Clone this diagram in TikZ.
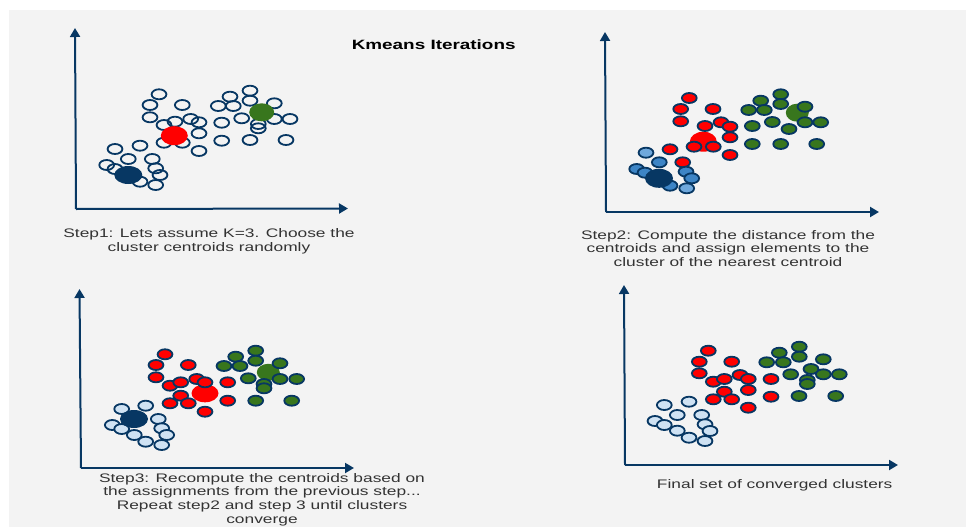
\documentclass[tikz,border=0pt]{standalone}
\usepackage{fontspec}
\setmainfont{Liberation Sans}
\newfontfamily\labelfont[FakeStretch=1.4]{Liberation Sans}
\usetikzlibrary{arrows.meta}

\definecolor{navy}{HTML}{073763}
\definecolor{panelbg}{HTML}{F3F3F3}
\definecolor{ptred}{HTML}{FF0000}
\definecolor{ptgreen}{HTML}{38761D}
\definecolor{ptblue}{HTML}{3D85C6}
\definecolor{ptblueL}{HTML}{6FA8DC}
\definecolor{ptpale}{HTML}{CFE2F3}
\definecolor{captiongray}{HTML}{333333}

\begin{document}
\begin{tikzpicture}[x=1pt,y=-1pt,
  axis/.style={draw=navy, line width=2pt, -{Triangle[width=10pt,length=9pt]}},
  dot/.style={draw=navy, line width=1.8pt},
  caption/.style={font=\labelfont\fontsize{12.4}{13.8}\selectfont, text=captiongray,
                  align=center, inner sep=0pt},
  heading/.style={font=\labelfont\fontsize{13.5}{15}\selectfont\bfseries, text=black, inner sep=0pt}
]
\useasboundingbox (0,0) rectangle (966,527);
\fill[white] (0,0) rectangle (966,527);
\fill[panelbg] (9,10) rectangle (966,527);

\node[heading] (title) at (433.7,45) {Kmeans Iterations};

% ---------------- Step 1: random centroids ----------------
\coordinate (o1) at (76,209);
\coordinate (y1) at (75,28);
\coordinate (x1) at (348,208.5);
\draw[axis] (o1) -- (y1);
\draw[axis] (o1) -- (x1);

\foreach \c in {(159,94.3),(150,105),(182.3,105),(150,117.3),(164,125),(175,121.7),
  (190.7,119),(199,122.3),(199,133.3),(164,142.7),(182.3,142.7),(199,151),
  (230,96.7),(250,90.7),(250,100.7),(218.3,106),(233.3,106),(274.3,103.3),
  (221.7,122.7),(241.7,118.3),(258.3,124),(258.3,128.3),(274.3,119),(290,119),
  (221.7,140.7),(250,140),(286,140),
  (115,149),(140,145.7),(128.3,159),(152.3,159),(106.7,165),(115,169),
  (155.7,168.3),(160,175),(140,181.7),(155.7,185)}
  \draw[dot] \c ellipse [x radius=7.4pt, y radius=5pt];

\fill[ptred] (174.3,135.7) ellipse [x radius=13.5pt, y radius=9.5pt];
\fill[ptgreen] (261.7,112.3) ellipse [x radius=12.5pt, y radius=9pt];
\fill[navy] (128.3,175) ellipse [x radius=14pt, y radius=9pt];

\node[caption] (cap1) at (209,241) {Step1: Lets assume K=3. Choose the\\cluster centroids randomly};

% ---------------- Step 2: assignment ----------------
\coordinate (o2) at (606,212);
\coordinate (y2) at (605,32);
\coordinate (x2) at (879,212);
\draw[axis] (o2) -- (y2);
\draw[axis] (o2) -- (x2);

\fill[ptred] (703.3,141.7) ellipse [x radius=13.5pt, y radius=10pt];
\fill[ptgreen] (797.3,112.7) ellipse [x radius=11.5pt, y radius=9pt];

\foreach \c in {(689.3,98),(680.7,109),(713,109),(680.7,121.3),(705,126),(721,122.3),
  (730,126.7),(730,137.3),(694,146.7),(713.3,146.7),(730,155),(670,149.3),(682.7,162.3)}
  \draw[dot, fill=ptred] \c ellipse [x radius=7.4pt, y radius=5pt];
\foreach \c in {(760.7,100.7),(780.7,94.3),(780.7,104),(748.7,110),(764.3,110),(805,106.7),
  (752.3,126),(772.3,122),(789,129),(805,122.3),(820.7,122.3),(752.3,144),(780.7,144),(816.7,144)}
  \draw[dot, fill=ptgreen] \c ellipse [x radius=7.4pt, y radius=5pt];
\foreach \c in {(659.3,162.3),(636.7,169),(645,172.7),(686,171.7),(691.7,178.3),(670,185.7)}
  \draw[dot, fill=ptblue] \c ellipse [x radius=7.4pt, y radius=5pt];
\foreach \c in {(646,152.7),(686.7,188.3)}
  \draw[dot, fill=ptblueL] \c ellipse [x radius=7.4pt, y radius=5pt];

\fill[navy] (659,178.3) ellipse [x radius=14pt, y radius=9.5pt];

\node[caption] (cap2) at (728,248.5) {Step2: Compute the distance from the\\centroids and assign elements to the\\cluster of the nearest centroid};

% ---------------- Step 3: recompute centroids ----------------
\coordinate (o3) at (81,468);
\coordinate (y3) at (79.5,289);
\coordinate (x3) at (354,468);
\draw[axis] (o3) -- (y3);
\draw[axis] (o3) -- (x3);

\fill[ptred] (205,393.3) ellipse [x radius=13.5pt, y radius=9pt];
\fill[ptgreen] (268.3,372.3) ellipse [x radius=11.5pt, y radius=8.5pt];

\foreach \c in {(165,354.3),(156,365),(188.3,365),(156,377.3),(170,385.7),(180.7,382.3),
  (196.7,379),(205,382.3),(227.7,382.3),(180.7,395.7),(170,403.3),(188.3,403.3),
  (205,411.7),(227.7,400.7)}
  \draw[dot, fill=ptred] \c ellipse [x radius=7.4pt, y radius=5pt];
\foreach \c in {(235.7,356.7),(255.7,350.7),(255.7,360.7),(224,366),(240,366),(280,363.3),
  (248.3,378.3),(264,384),(264,388.3),(280,379),(296.7,379),(255.7,400.7),(291.7,400.7)}
  \draw[dot, fill=ptgreen] \c ellipse [x radius=7.4pt, y radius=5pt];
\foreach \c in {(121.7,409),(145.7,405.7),(158.3,419),(112.3,425),(121.7,429),(161.7,428.3),
  (166.7,435),(134.3,435),(145.7,441.7),(161.7,445)}
  \draw[dot, fill=ptpale] \c ellipse [x radius=7.4pt, y radius=5pt];

\fill[navy] (134,419) ellipse [x radius=14pt, y radius=9pt];

\node[caption] (cap3) at (262,499.5) {Step3: Recompute the centroids based on\\the assignments from the previous step...\\Repeat step2 and step 3 until clusters\\converge};

% ---------------- Final clusters ----------------
\coordinate (o4) at (625,465);
\coordinate (y4) at (624,285);
\coordinate (x4) at (898,465);
\draw[axis] (o4) -- (y4);
\draw[axis] (o4) -- (x4);

\foreach \c in {(708.3,350.7),(699.3,361.7),(731.7,361.7),(699.3,373.3),(713.3,381.7),
  (724.3,379),(740,375),(748.3,379),(748.3,390),(724.3,391.7),(713.3,399.3),(731.7,399.3),
  (748.3,407.7),(771,379),(771,396.7)}
  \draw[dot, fill=ptred] \c ellipse [x radius=7.4pt, y radius=5pt];
\foreach \c in {(779.3,352.7),(799.3,346.7),(799.3,356.7),(766.7,362.3),(783.3,362.3),
  (823.3,359.3),(790.7,374.3),(811,369),(807.3,380),(807.3,384),(823.3,374.3),(839.3,374.3),
  (799,396),(835.7,396)}
  \draw[dot, fill=ptgreen] \c ellipse [x radius=7.4pt, y radius=5pt];
\foreach \c in {(664.3,405),(689,401.7),(677.3,415),(701.7,415),(655,421),(664.3,425),
  (705,424.3),(710,431),(677.3,430.7),(689,437.7),(705,441)}
  \draw[dot, fill=ptpale] \c ellipse [x radius=7.4pt, y radius=5pt];

\node[caption] (cap4) at (774.7,485.7) {Final set of converged clusters};

\end{tikzpicture}
\end{document}
